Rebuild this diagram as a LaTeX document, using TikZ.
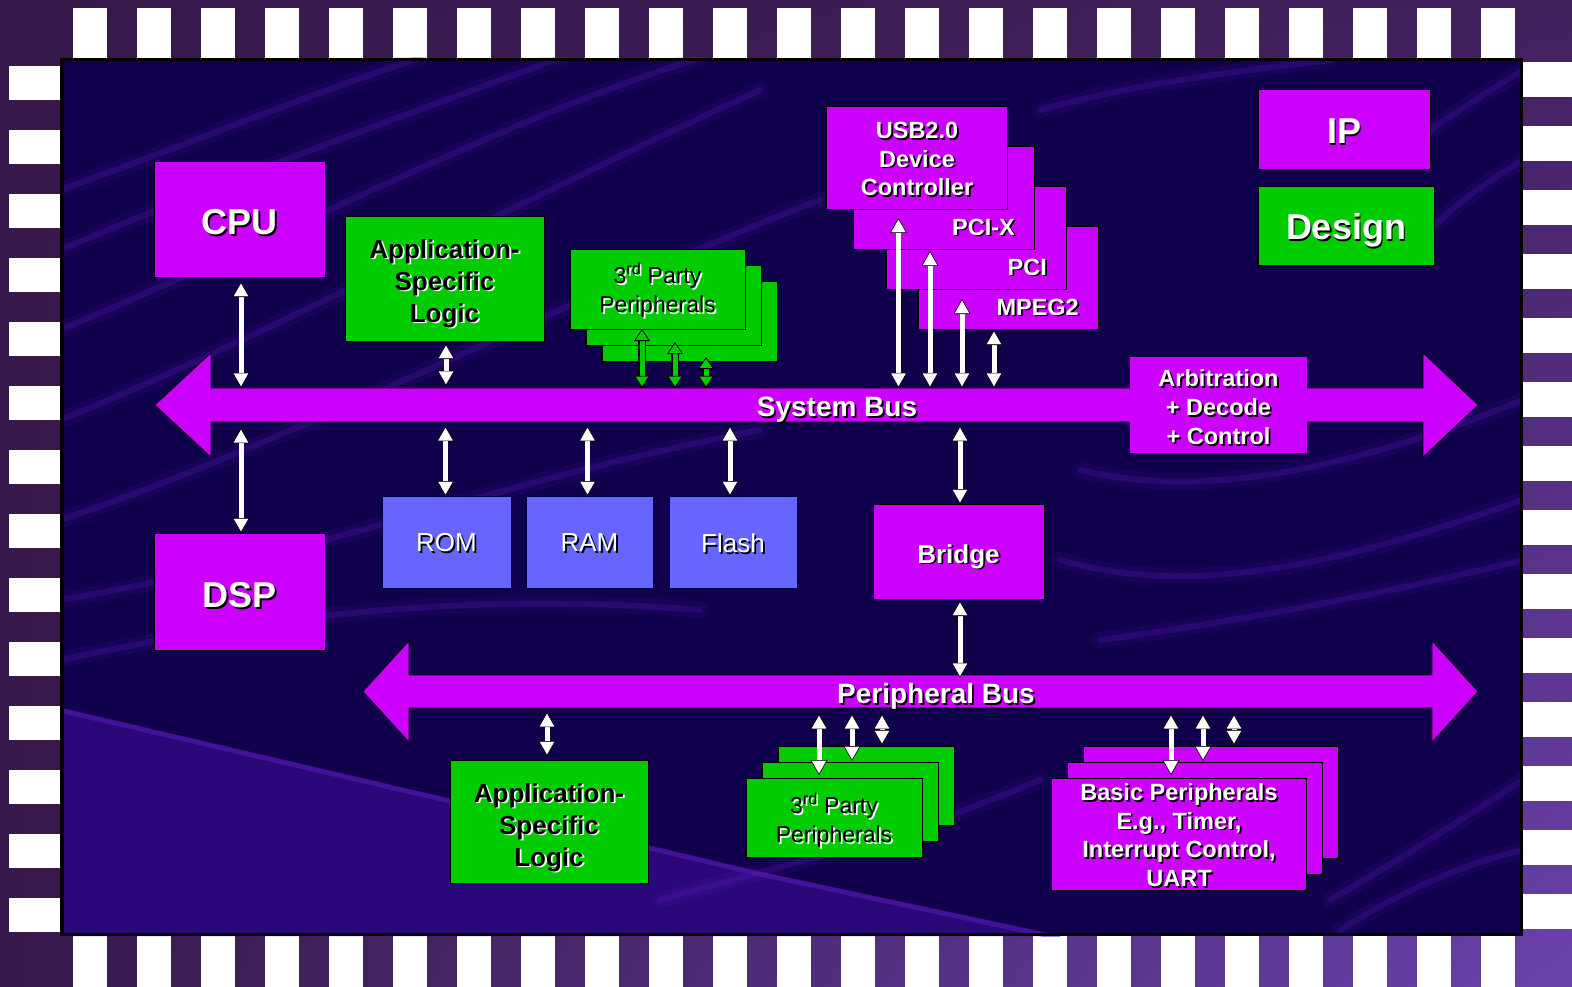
\documentclass[tikz,border=0pt]{standalone}
\usepackage{fontspec}
\setmainfont{Liberation Sans}
\usetikzlibrary{arrows.meta,calc,shadings}
\definecolor{mag}{HTML}{CC00FF}
\definecolor{grn}{HTML}{00CC00}
\definecolor{memblue}{HTML}{6666FF}
\definecolor{panel}{HTML}{11004C}
\definecolor{streak}{HTML}{5A1CB8}
\definecolor{lowfield}{HTML}{300A82}
\definecolor{frameA}{HTML}{36184A}
\definecolor{frameB}{HTML}{42205E}
\definecolor{frameC}{HTML}{6A42AC}

% text with a drop shadow: name, position, style, text colour, shadow colour, text
\newcommand\shtext[6]{%
  \node[#3, text=#5, xshift=1.8pt, yshift=-1.8pt] (#1-s) at (#2) {#6};
  \node[#3, text=#4] (#1-t) at (#2) {#6};}

% green block arrow with black outline
\newcommand\garrow[2]{%
  \draw[black, line width=7.5pt, shorten <=10pt, shorten >=10pt] (#1) -- (#2);
  \draw[garr] (#1) -- (#2);}

\begin{document}
\begin{tikzpicture}[x=1pt, y=-1pt,
  box/.style={draw=black, line width=0.8pt, inner sep=0pt, outer sep=0pt},
  magbox/.style={box, fill=mag},
  grnbox/.style={box, fill=grn},
  membox/.style={box, draw=black!70!blue, fill=memblue},
  dn/.style={yshift=-#1},
  bigtxt/.style={font=\bfseries\fontsize{36}{40}\selectfont, align=center, inner sep=0pt},
  midtxt/.style={font=\bfseries\fontsize{26}{32}\selectfont, align=center, inner sep=0pt},
  smtxt/.style={font=\bfseries\fontsize{23.5}{28.8}\selectfont, align=center, inner sep=0pt},
  thirdtxt/.style={font=\fontsize{23}{29}\selectfont, align=center, inner sep=0pt},
  memtxt/.style={font=\fontsize{26}{30}\selectfont, inner sep=0pt},
  bustxt/.style={font=\bfseries\fontsize{28}{32}\selectfont, inner sep=0pt},
  busshape/.style={fill=mag, draw=black, line width=0.6pt},
  warr/.style={draw=white, line width=5pt, {Triangle[width=17pt,length=15pt,fill=white,color=black,line width=0.6pt]}-{Triangle[width=17pt,length=15pt,fill=white,color=black,line width=0.6pt]}},
  garr/.style={draw=grn, line width=5pt,
    {Triangle[width=16pt,length=12pt,fill=grn,color=black,line width=0.8pt]}-{Triangle[width=16pt,length=12pt,fill=grn,color=black,line width=0.8pt]}},
]
\useasboundingbox (0,0) rectangle (1572,987);

% ---- chequered frame ----
\shade[upper left=frameA, upper right=frameB, lower left=frameA, lower right=frameC] (0,0) rectangle (1572,987);
\foreach \i in {0,...,22} {
  \fill[white] (73+64*\i,8) rectangle ++(34,50);
  \fill[white] (73+64*\i,936) rectangle ++(34,51);
}
\foreach \i in {0,...,13} {
  \fill[white] (9,66+64*\i) rectangle ++(51,34);
  \fill[white] (1523,62+64*\i) rectangle ++(49,35);
}

% ---- circuit-board panel ----
\fill[panel] (60,58) rectangle (1523,936);
\begin{scope}
  \clip (60,58) rectangle (1523,936);
  % lighter board surface in the lower left
  \fill[lowfield, opacity=0.85] (60,708) -- (480,806) -- (760,872) -- (1060,936) -- (60,936) -- cycle;
  \draw[streak, line width=5pt, opacity=0.5] (60,710) -- (480,808) -- (760,874) -- (1060,938);
  % diffuse traces
  \begin{scope}[draw=streak, line cap=round]
    \foreach \w/\o in {16/0.12, 6/0.25} {
      \draw[line width=\w pt, opacity=\o] (60,190) .. controls (200,140) and (320,90) .. (420,58);
      \draw[line width=\w pt, opacity=\o] (60,250) .. controls (250,170) and (420,110) .. (560,58);
      \draw[line width=\w pt, opacity=\o] (60,330) .. controls (300,230) and (500,120) .. (700,58);
      \draw[line width=\w pt, opacity=\o] (60,420) .. controls (260,340) and (520,200) .. (760,90);
      \draw[line width=\w pt, opacity=\o] (60,520) .. controls (300,440) and (560,300) .. (820,200);
      \draw[line width=\w pt, opacity=\o] (60,600) .. controls (300,560) and (500,480) .. (760,430);
      \draw[line width=\w pt, opacity=\o] (60,660) .. controls (250,620) and (450,590) .. (700,610);
      \draw[line width=\w pt, opacity=\o] (1040,110) .. controls (1150,80) and (1250,70) .. (1330,60);
      \draw[line width=\w pt, opacity=\o] (1430,130) .. controls (1460,110) and (1490,90) .. (1523,70);
      \draw[line width=\w pt, opacity=\o] (1430,230) .. controls (1460,200) and (1490,180) .. (1523,160);
      \draw[line width=\w pt, opacity=\o] (1080,470) .. controls (1200,500) and (1350,470) .. (1523,400);
      \draw[line width=\w pt, opacity=\o] (1060,560) .. controls (1200,600) and (1350,560) .. (1523,500);
      \draw[line width=\w pt, opacity=\o] (1100,640) .. controls (1250,620) and (1400,590) .. (1523,560);
      \draw[line width=\w pt, opacity=\o] (660,900) .. controls (800,860) and (900,840) .. (1040,780);
      \draw[line width=\w pt, opacity=\o] (1330,900) .. controls (1400,860) and (1460,820) .. (1523,780);
      \draw[line width=\w pt, opacity=\o] (1340,930) .. controls (1420,880) and (1480,860) .. (1523,850);
    }
  \end{scope}
\end{scope}
\draw[black, line width=3.5pt] (61.75,59.75) rectangle (1521.25,934.25);

% ---- buses ----
\draw[busshape] (155,405) -- (211,353) -- (211,388) -- (1423,388) -- (1423,353) -- (1478,405)
  -- (1423,457) -- (1423,422) -- (211,422) -- (211,457) -- cycle;
\node[minimum width=1212pt, minimum height=34pt, inner sep=0pt] (sysbus) at (817,405) {};
\draw[busshape] (363,691.5) -- (409,641) -- (409,675) -- (1432,675) -- (1432,641) -- (1478,691.5)
  -- (1432,742) -- (1432,708) -- (409,708) -- (409,742) -- cycle;
\node[minimum width=1023pt, minimum height=33pt, inner sep=0pt] (pbus) at (920.5,691.5) {};
\shtext{sysbusl}{837,405}{bustxt, dn=4.5pt}{white}{black}{System Bus}
\shtext{pbusl}{936,692}{bustxt, dn=4.5pt}{white}{black}{Peripheral Bus}

% arbitration block sits on the system bus
\node[fill=mag, inner sep=0pt, minimum width=177pt, minimum height=96pt] (arb) at (1218.5,405) {};
\shtext{arbl}{arb}{smtxt, dn=2pt}{white}{black}{Arbitration\\+ Decode\\+ Control}

% ---- title blocks ----
\node[magbox, minimum width=172pt, minimum height=80pt] (ip) at (1344,129) {};
\shtext{ipl}{ip}{bigtxt, dn=2pt}{white}{black}{IP}
\node[grnbox, minimum width=176pt, minimum height=79pt] (design) at (1346,225.5) {};
\shtext{designl}{design}{bigtxt, dn=5pt}{white}{black}{Design}

% ---- processors ----
\node[magbox, minimum width=171pt, minimum height=116pt] (cpu) at (239.5,219) {};
\shtext{cpul}{cpu}{bigtxt, dn=3pt}{white}{black}{CPU}
\node[magbox, minimum width=171pt, minimum height=117pt] (dsp) at (239.5,591.5) {};
\shtext{dspl}{dsp}{bigtxt, dn=3.5pt}{white}{black}{DSP}

% ---- application-specific logic ----
\node[grnbox, minimum width=199pt, minimum height=125pt] (asl) at (444.5,278.5) {};
\shtext{asll}{asl}{midtxt, dn=5pt}{black}{white}{Application-\\Specific\\Logic}
\node[grnbox, minimum width=198pt, minimum height=123pt] (aslb) at (549,821.5) {};
\shtext{aslbl}{aslb}{midtxt, dn=6pt}{black}{white}{Application-\\Specific\\Logic}

% ---- third-party peripherals on the system bus ----
\node[grnbox, minimum width=175pt, minimum height=80pt] (tb) at (689.5,321) {};
\node[grnbox, minimum width=175pt, minimum height=80pt] (tm) at (673.5,305) {};
\node[grnbox, minimum width=175pt, minimum height=80pt] (tf) at (657.5,289) {};
\shtext{tfl}{tf}{thirdtxt, dn=1.5pt}{black}{white}{3\textsuperscript{rd} Party\\Peripherals}

% ---- memories ----
\node[membox, minimum width=129pt, minimum height=92pt] (rom) at (446.5,542) {};
\shtext{roml}{rom}{memtxt, dn=1pt}{white}{black}{ROM}
\node[membox, minimum width=127pt, minimum height=92pt] (ram) at (589.5,542) {};
\shtext{raml}{ram}{memtxt, dn=1pt}{white}{black}{RAM}
\node[membox, minimum width=128pt, minimum height=92pt] (flash) at (733,542) {};
\shtext{flashl}{flash}{memtxt, dn=1pt}{white}{black}{Flash}

% ---- interface controllers ----
\node[magbox, minimum width=180pt, minimum height=103pt] (mpeg) at (1008,277.5) {};
\shtext{mpegl}{$(mpeg.south east)+(-19,-22)$}{smtxt, anchor=east}{white}{black}{MPEG2}
\node[magbox, minimum width=180pt, minimum height=103pt] (pci) at (976,237.5) {};
\shtext{pcil}{$(pci.south east)+(-19,-22)$}{smtxt, anchor=east}{white}{black}{PCI}
\node[magbox, minimum width=181pt, minimum height=103pt] (pcix) at (943.5,197.5) {};
\shtext{pcixl}{$(pcix.south east)+(-19,-22)$}{smtxt, anchor=east}{white}{black}{PCI-X}
\node[magbox, minimum width=181pt, minimum height=103pt] (usb) at (917,157.5) {};
\shtext{usbl}{usb}{smtxt, dn=1.5pt}{white}{black}{USB2.0\\Device\\Controller}

% ---- bridge ----
\node[magbox, minimum width=171pt, minimum height=95pt] (bridge) at (958.5,551.5) {};
\shtext{bridgel}{bridge}{midtxt, dn=5pt}{white}{black}{Bridge}

% ---- peripherals on the peripheral bus ----
\node[grnbox, minimum width=176pt, minimum height=79pt] (pb) at (866,785.5) {};
\node[grnbox, minimum width=176pt, minimum height=79pt] (pm) at (850,801.5) {};
\node[grnbox, minimum width=176pt, minimum height=79pt] (pf) at (834,817.5) {};
\shtext{pfl}{pf}{thirdtxt, dn=3pt}{black}{white}{3\textsuperscript{rd} Party\\Peripherals}

\node[magbox, minimum width=255pt, minimum height=112pt] (bb) at (1210.5,802) {};
\node[magbox, minimum width=255pt, minimum height=112pt] (bm) at (1194.5,818) {};
\node[magbox, minimum width=255pt, minimum height=112pt] (bf) at (1178.5,834) {};
\shtext{bfl}{1179,833}{smtxt, dn=2pt}{white}{black}{Basic Peripherals\\E.g., Timer,\\Interrupt Control,\\UART}

% ---- connections to the system bus ----
\draw[warr] ($(cpu.south)+(1.5,5)$) -- ($(cpu.south |- sysbus.north)+(1.5,0)$);
\draw[warr] ($(dsp.north |- sysbus.south)+(1.5,6)$) -- ($(dsp.north)+(1.5,0)$);
\draw[warr] ($(asl.south)+(1.5,3)$) -- ($(asl.south |- sysbus.north)+(1.5,-2)$);
\draw[warr] ($(rom.north |- sysbus.south)+(-1,4)$) -- ($(rom.north)+(-1,0)$);
\draw[warr] ($(ram.north |- sysbus.south)+(-2,4)$) -- ($(ram.north)+(-2,0)$);
\draw[warr] ($(flash.north |- sysbus.south)+(-3,4)$) -- ($(flash.north)+(-3,0)$);
\draw[warr] ($(bridge.north |- sysbus.south)+(1.5,4)$) -- ($(bridge.north)+(1.5,0)$);

\coordinate (u1) at ($(usb.south west)+(72,9)$);
\coordinate (u2) at ($(pcix.south west)+(77,2)$);
\coordinate (u3) at ($(pci.south west)+(76,10)$);
\coordinate (u4) at ($(mpeg.south west)+(76,1)$);
\foreach \c in {u1,u2,u3,u4} \draw[warr] (\c) -- (\c |- sysbus.north);

\coordinate (g1) at ($(tf.south west)+(72,0)$);
\coordinate (g2) at ($(tm.south west)+(89,-3)$);
\coordinate (g3) at ($(tb.south west)+(104,-4)$);
\foreach \c in {g1,g2,g3} {\garrow{\c}{\c |- sysbus.north}}

% ---- connections to the peripheral bus ----
\draw[warr] ($(bridge.south)+(1.5,2)$) -- ($(bridge.south |- pbus.north)+(1.5,3)$);
\draw[warr] ($(aslb.north |- pbus.south)+(-2,4)$) -- ($(aslb.north)+(-2,-4)$);

\coordinate (p1) at ($(pf.north west)+(73,-3)$);
\coordinate (p2) at ($(pm.north west)+(90,-1)$);
\coordinate (p3) at ($(pb.north west)+(104,-1)$);
\coordinate (q1) at ($(bf.north west)+(120,-3)$);
\coordinate (q2) at ($(bm.north west)+(136,-1)$);
\coordinate (q3) at ($(bb.north west)+(151,-1)$);
\foreach \c in {p1,p2,p3,q1,q2,q3} \draw[warr] ($(\c |- pbus.south)+(0,6)$) -- (\c);
\end{tikzpicture}
\end{document}
